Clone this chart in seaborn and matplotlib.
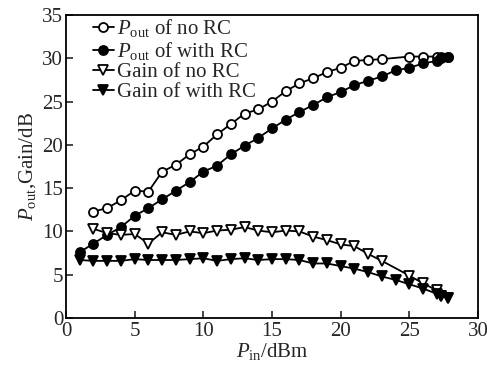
import numpy as np
import pandas as pd
import seaborn as sns
import matplotlib.pyplot as plt

# Pout without RC
x_pout_no = [2, 3, 4, 5, 6, 7, 8, 9, 10, 11, 12, 13, 14, 15, 16, 17, 18, 19, 20, 21, 22, 23, 25, 26, 27, 27.3, 27.8]
y_pout_no = [12.3, 12.7, 13.6, 14.7, 14.6, 16.9, 17.7, 18.9, 19.8, 21.2, 22.4, 23.6, 24.1, 25.0, 26.2, 27.1, 27.7, 28.4, 28.9, 29.7, 29.8, 29.9, 30.2, 30.2, 30.2, 30.1, 30.1]
# Pout with RC
x_pout_rc = [1, 2, 3, 4, 5, 6, 7, 8, 9, 10, 11, 12, 13, 14, 15, 16, 17, 18, 19, 20, 21, 22, 23, 24, 25, 26, 27, 27.3, 27.8]
y_pout_rc = [7.6, 8.6, 9.6, 10.5, 11.8, 12.7, 13.7, 14.7, 15.7, 16.9, 17.6, 18.9, 19.9, 20.8, 21.9, 22.9, 23.8, 24.6, 25.5, 26.1, 26.9, 27.4, 27.9, 28.6, 28.9, 29.4, 29.7, 30.0, 30.1]
# Gain without RC
x_gain_no = [2, 3, 4, 5, 6, 7, 8, 9, 10, 11, 12, 13, 14, 15, 16, 17, 18, 19, 20, 21, 22, 23, 25, 26, 27, 27.3, 27.8]
y_gain_no = [10.3, 9.8, 9.6, 9.7, 8.6, 9.9, 9.6, 10.0, 9.8, 10.1, 10.2, 10.5, 10.1, 9.9, 10.1, 10.0, 9.4, 9.0, 8.5, 8.3, 7.4, 6.6, 4.9, 4.0, 3.2, 2.6, 2.3]
# Gain with RC
x_gain_rc = x_pout_rc
y_gain_rc = [6.7, 6.6, 6.6, 6.6, 6.8, 6.7, 6.7, 6.7, 6.8, 6.9, 6.6, 6.8, 6.9, 6.7, 6.8, 6.8, 6.7, 6.3, 6.3, 6.0, 5.7, 5.3, 4.8, 4.4, 3.9, 3.4, 2.8, 2.5, 2.3]

xticks = [0, 5, 10, 15, 20, 25, 30]
yticks = [0, 5, 10, 15, 20, 25, 30, 35]

sns.set_style("ticks")
plt.rcParams['font.family'] = ['Liberation Serif', 'DejaVu Serif']
plt.rcParams['mathtext.fontset'] = 'custom'
plt.rcParams['mathtext.rm'] = 'Liberation Serif'
plt.rcParams['mathtext.it'] = 'Liberation Serif:italic'
plt.rcParams['font.size'] = 15

fig = plt.figure(figsize=(4.87, 3.70), dpi=100)
ax = fig.add_axes([0.1355, 0.1405, 0.846, 0.819])

series = [
    (x_pout_no, y_pout_no, r"$P_{\mathrm{out}}$ of no RC", 'o', 'white', 6.5),
    (x_pout_rc, y_pout_rc, r"$P_{\mathrm{out}}$ of with RC", 'o', 'black', 6.5),
    (x_gain_no, y_gain_no, "Gain of no RC", 'v', 'white', 7.5),
    (x_gain_rc, y_gain_rc, "Gain of with RC", 'v', 'black', 7.5),
]
for xs, ys, lab, mk, fc, ms in series:
    df = pd.DataFrame({"x": xs, "y": ys})
    sns.lineplot(data=df, x="x", y="y", ax=ax, color='black', lw=1.3,
                 marker=mk, markersize=ms, markerfacecolor=fc,
                 markeredgecolor='black', markeredgewidth=1.3, label=lab)

ax.set_xlim(0, 30)
ax.set_ylim(0, 35)
ax.set_xticks(xticks)
ax.set_yticks(yticks)
ax.tick_params(direction='in', length=5, width=1.2, labelsize=15, pad=2,
               top=False, right=False)
ax.tick_params(axis='x', pad=3)
for s in ax.spines.values():
    s.set_linewidth(1.3)
    s.set_color('black')
ax.set_xlabel(r"$P_{\mathrm{in}}$/dBm", fontsize=15, labelpad=0)
ax.set_ylabel(r"$P_{\mathrm{out}}$,Gain/dB", fontsize=15, labelpad=3)

ax.legend(loc='upper left', bbox_to_anchor=(0.03, 1.04), frameon=False,
          fontsize=15, handlelength=1.0, handletextpad=0.15, labelspacing=0.02,
          borderpad=0.2)

fig.savefig("out.png", dpi=100)
